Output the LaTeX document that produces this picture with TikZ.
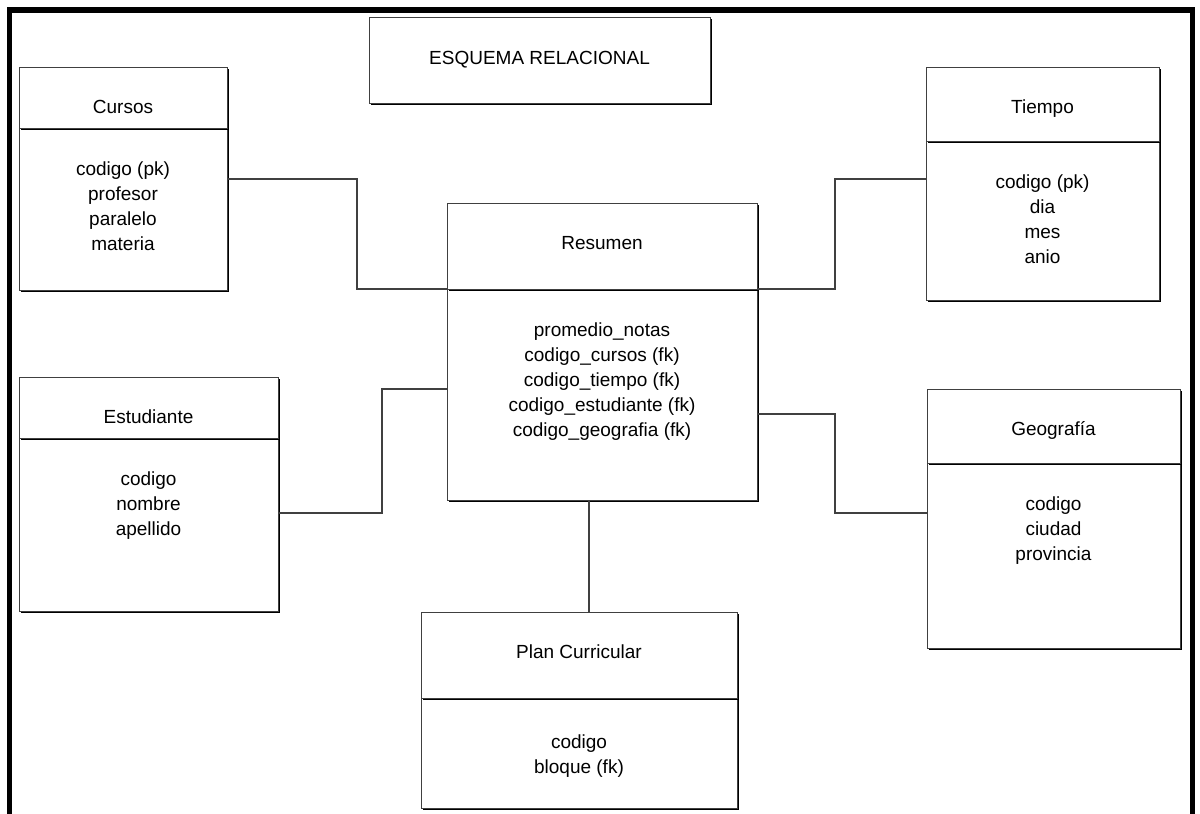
\documentclass[tikz,border=0pt]{standalone}
\usepackage{fontspec}
\setmainfont{Liberation Sans}
\usetikzlibrary{positioning,shadows}

\begin{document}
\begin{tikzpicture}[
  tblbox/.style={draw=black!75, fill=white, line width=1pt, outer sep=0pt,
                 drop shadow={shadow xshift=2pt, shadow yshift=-2pt, fill=black, opacity=1}},
  tblhead/.style={tblbox, inner ysep=0pt, text height=46pt, font=\fontsize{19pt}{25pt}\selectfont},
  tblbody/.style={tblbox},
  tblattr/.style={align=center, inner sep=0pt, font=\fontsize{19pt}{25pt}\selectfont},
  tbledge/.style={draw=black!75, line width=1.2pt},
]
  \useasboundingbox (0pt,0pt) rectangle (1200pt,-814pt);
  \node[tblhead, minimum width=341pt, text height=47pt, text depth=39pt] (esquema) at (539.5pt,-60pt) {ESQUEMA RELACIONAL};
  % tables: body first, header on top of it
  \node[tblbody, minimum width=208pt, minimum height=162pt] (cursosbody) at (123pt,-209pt) {};
  \node[tblhead, minimum width=208pt, text depth=15pt, above=0pt of cursosbody] (cursos) {Cursos};
  \node[tblattr, below=34pt of cursos.south] (cursosattr) {codigo (pk)\\profesor\\paralelo\\materia};
  \node[tblbody, minimum width=233pt, minimum height=159pt] (tiempobody) at (1042.5pt,-220.5pt) {};
  \node[tblhead, minimum width=233pt, text depth=28pt, above=0pt of tiempobody] (tiempo) {Tiempo};
  \node[tblattr, below=34pt of tiempo.south] (tiempoattr) {codigo (pk)\\dia\\mes\\anio};
  \node[tblbody, minimum width=310pt, minimum height=211pt] (resumenbody) at (602pt,-394.5pt) {};
  \node[tblhead, minimum width=310pt, text depth=40pt, above=0pt of resumenbody] (resumen) {Resumen};
  \node[tblattr, below=34pt of resumen.south] (resumenattr) {promedio\_notas\\codigo\_cursos (fk)\\codigo\_tiempo (fk)\\codigo\_estudiante (fk)\\codigo\_geografia (fk)};
  \node[tblbody, minimum width=259pt, minimum height=173pt] (estudiantebody) at (148.5pt,-524.5pt) {};
  \node[tblhead, minimum width=259pt, text depth=15pt, above=0pt of estudiantebody] (estudiante) {Estudiante};
  \node[tblattr, below=34pt of estudiante.south] (estudianteattr) {codigo\\nombre\\apellido};
  \node[tblbody, minimum width=253pt, minimum height=185pt] (geografiabody) at (1053.5pt,-555.5pt) {};
  \node[tblhead, minimum width=253pt, text depth=28pt, above=0pt of geografiabody] (geografia) {Geografía};
  \node[tblattr, below=34pt of geografia.south] (geografiaattr) {codigo\\ciudad\\provincia};
  \node[tblbody, minimum width=316pt, minimum height=110pt] (planbody) at (579pt,-753pt) {};
  \node[tblhead, minimum width=316pt, text depth=40pt, above=0pt of planbody] (plan) {Plan Curricular};
  \node[tblattr, below=37pt of plan.south] (planattr) {codigo\\bloque (fk)};
  % links
  \draw[tbledge] ([yshift=30pt]cursosbody.east) -| ([xshift=-90pt]resumen.south west) -- (resumen.south west);
  \draw[tbledge] ([yshift=41.5pt]tiempobody.west) -| ([xshift=78pt]resumen.south east) -- (resumen.south east);
  \draw[tbledge] ([yshift=5.5pt]resumenbody.west) -| ([xshift=104pt,yshift=11.5pt]estudiantebody.east) -- ([yshift=11.5pt]estudiantebody.east);
  \draw[tbledge] ([yshift=-19.5pt]resumenbody.east) -| ([xshift=-92pt,yshift=42.5pt]geografiabody.west) -- ([yshift=42.5pt]geografiabody.west);
  \draw[tbledge] ([xshift=-13pt]resumenbody.south) -- ([xshift=10pt]plan.north);
  % frame
  \draw[line width=5.5pt] (9.5pt,-814pt) -- (9.5pt,-10pt) -- (1192.5pt,-10pt) -- (1192.5pt,-814pt);
\end{tikzpicture}
\end{document}
